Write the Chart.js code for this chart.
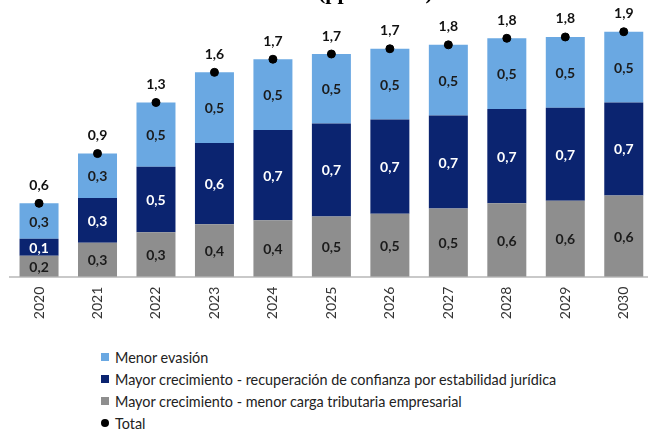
<!DOCTYPE html>
<html>
<head>
<meta charset="UTF-8">
<title>Recaudación adicional (pp del PIB)</title>
<script src="https://cdn.jsdelivr.net/npm/chart.js"></script>
<style>
    html, body {
        margin: 0;
        padding: 0;
        background: #fff;
        overflow: hidden;
    }
    .wrap {
        position: relative;
        width: 648px;
        height: 430px;
        overflow: hidden;
    }
    #grafico {
        position: absolute;
        left: 0;
        top: 0;
    }
    /* leyenda en una columna bajo el gráfico */
    .leyenda {
        position: absolute;
        left: 101px;
        top: 346px;
        font-family: Lato, sans-serif;
        font-size: 14.4px;
        color: #222;
    }
    .leyenda div {
        height: 22px;
        display: flex;
        align-items: center;
        white-space: nowrap;
    }
    .leyenda i {
        display: inline-block;
        width: 8px;
        height: 8px;
        margin-right: 6px;
    }
    .leyenda i.punto {
        border-radius: 50%;
        background: #000;
    }
</style>
</head>
<body>
<div class="wrap">
    <canvas id="grafico" width="660" height="330"></canvas>
    <div class="leyenda">
        <div><i style="background:#6aa8e2"></i>Menor evasión</div>
        <div><i style="background:#0b2470"></i>Mayor crecimiento - recuperación de confianza por estabilidad jurídica</div>
        <div><i style="background:#8e8e8e"></i>Mayor crecimiento - menor carga tributaria empresarial</div>
        <div><i class="punto"></i>Total</div>
    </div>
</div>

<script>
// Datos por año (pp del PIB)
const anios = ['2020', '2021', '2022', '2023', '2024', '2025', '2026', '2027', '2028', '2029', '2030'];
const cargaTributaria = [0.16, 0.26, 0.34, 0.40, 0.43, 0.46, 0.48, 0.52, 0.56, 0.58, 0.62];
const confianza = [0.13, 0.34, 0.50, 0.62, 0.69, 0.71, 0.72, 0.71, 0.72, 0.71, 0.71];
const menorEvasion = [0.27, 0.34, 0.49, 0.54, 0.54, 0.53, 0.54, 0.54, 0.54, 0.54, 0.54];
const total = [0.56, 0.94, 1.33, 1.56, 1.66, 1.70, 1.74, 1.77, 1.82, 1.83, 1.87];

const COLOR_GRIS = '#8e8e8e';
const COLOR_AZUL_OSCURO = '#0b2470';
const COLOR_AZUL_CLARO = '#6aa8e2';

// Formato con un decimal y coma
function fmt(v) {
    return (Math.round(v * 10) / 10).toFixed(1).replace('.', ',');
}

// Etiquetas dentro de cada tramo y encima del punto total
const etiquetas = {
    id: 'etiquetas',
    afterDatasetsDraw(chart) {
        const ctx = chart.ctx;
        ctx.save();
        ctx.textAlign = 'center';
        ctx.textBaseline = 'middle';
        ctx.font = 'bold 14px Lato, sans-serif';
        chart.data.datasets.forEach((ds, di) => {
            const meta = chart.getDatasetMeta(di);
            meta.data.forEach((el, i) => {
                const v = ds.data[i];
                if (ds.type === 'line') {
                    ctx.fillStyle = '#111';
                    ctx.fillText(fmt(v), el.x, el.y - 18);
                } else {
                    ctx.fillStyle = ds.textColor;
                    ctx.fillText(fmt(v), el.x, (el.y + el.base) / 2 + 1);
                }
            });
        });
        ctx.restore();
    }
};

// Título superior (recortado por el borde)
const titulo = {
    id: 'titulo',
    afterDraw(chart) {
        const ctx = chart.ctx;
        ctx.save();
        ctx.font = 'bold 22px "Liberation Serif", serif';
        ctx.fillStyle = '#000';
        ctx.textAlign = 'left';
        ctx.textBaseline = 'alphabetic';
        ctx.fillText('(pp del PIB)', 318, -1);
        ctx.restore();
    }
};

new Chart(document.getElementById('grafico'), {
    data: {
        labels: anios,
        datasets: [
            {
                type: 'line',
                label: 'Total',
                data: total,
                stack: 'total',
                showLine: false,
                pointRadius: 4,
                pointHoverRadius: 4,
                pointBackgroundColor: '#000',
                pointBorderColor: '#000',
                order: -1
            },
            {
                type: 'bar',
                label: 'Mayor crecimiento - menor carga tributaria empresarial',
                data: cargaTributaria,
                backgroundColor: COLOR_GRIS,
                textColor: '#1b1b1b',
                stack: 'a'
            },
            {
                type: 'bar',
                label: 'Mayor crecimiento - recuperación de confianza por estabilidad jurídica',
                data: confianza,
                backgroundColor: COLOR_AZUL_OSCURO,
                textColor: '#ffffff',
                stack: 'a'
            },
            {
                type: 'bar',
                label: 'Menor evasión',
                data: menorEvasion,
                backgroundColor: COLOR_AZUL_CLARO,
                textColor: '#1b1b1b',
                stack: 'a'
            }
        ]
    },
    options: {
        responsive: false,
        animation: false,
        layout: {
            padding: { top: 14.7, left: 9.8, right: 7, bottom: 0 }
        },
        datasets: {
            bar: {
                categoryPercentage: 1,
                barPercentage: 0.667
            }
        },
        scales: {
            x: {
                stacked: true,
                grid: { display: false, drawTicks: false },
                border: { display: true, color: '#c9c9c9', width: 2 },
                ticks: {
                    autoSkip: false,
                    minRotation: 90,
                    maxRotation: 90,
                    padding: 10,
                    color: '#333',
                    font: { family: 'Lato, sans-serif', size: 14 }
                },
                afterFit(scale) {
                    scale.height = 53.3;
                }
            },
            y: {
                stacked: true,
                display: false,
                min: 0,
                max: 2
            }
        },
        plugins: {
            legend: { display: false },
            tooltip: { enabled: false }
        }
    },
    plugins: [etiquetas, titulo]
});
</script>
</body>
</html>
